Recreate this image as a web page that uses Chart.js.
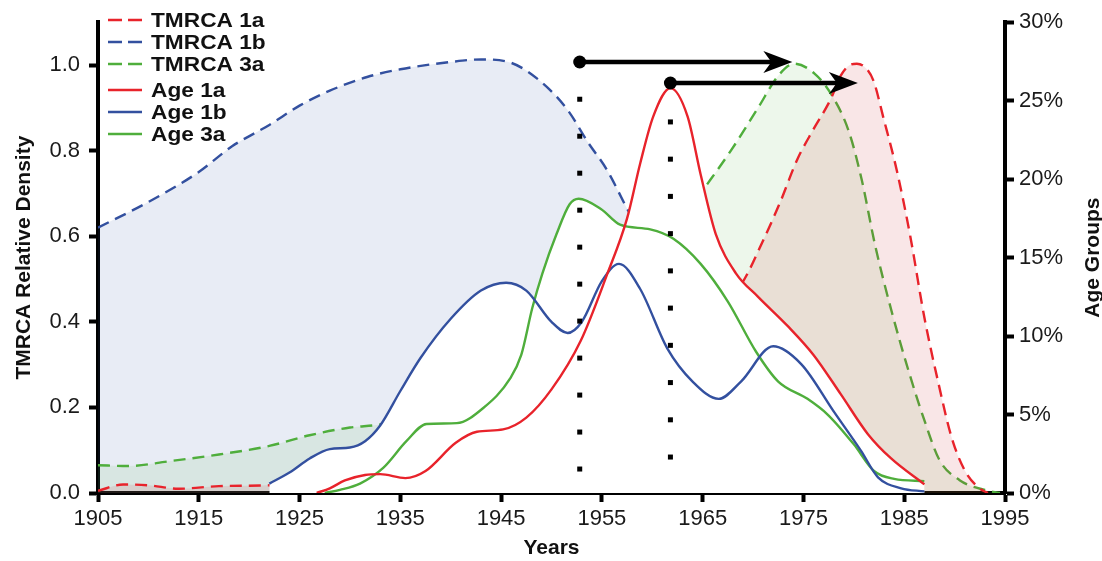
<!DOCTYPE html>
<html>
<head>
<meta charset="utf-8">
<script src="https://cdn.jsdelivr.net/npm/chart.js@4.4.1/dist/chart.umd.min.js"></script>
<style>
body{margin:0;background:#fff;}
#wrap{width:1102px;height:561px;position:relative;}
</style>
</head>
<body>
<div id="wrap"><canvas id="densidad"></canvas></div>
<script>
// TMRCA curves, left axis (relative density)
var tmrca1aYears = [1905,1907.5,1910,1913,1917,1922,1926,1930,1935,1940,1945,1950,1955,1960,1965,1968.9,1971,1972.7,1974.4,1976,1977.7,1978.7,1979.6,1980.3,1981.3,1982,1982.9,1984.3,1985.6,1987,1988.4,1989.7,1991,1992.4,1993.3];
var tmrca1aVals  = [0.005,0.02,0.018,0.01,0.016,0.018,0.025,0.03,0.04,0.07,0.1,0.15,0.22,0.3,0.39,0.49,0.59,0.68,0.78,0.85,0.92,0.975,1.0,1.003,0.99,0.96,0.88,0.75,0.6,0.41,0.256,0.13,0.053,0.012,0];

var tmrca1bYears = [1905,1910,1915,1918.3,1922,1925,1928,1931.7,1935,1940,1943,1946,1949,1951.6,1953.6,1955.5,1957.6,1960,1963,1966,1970,1974,1978,1981];
var tmrca1bVals  = [0.62,0.68,0.75,0.81,0.86,0.905,0.94,0.972,0.99,1.007,1.013,1.005,0.96,0.895,0.82,0.755,0.66,0.56,0.45,0.32,0.15,0.05,0.01,0];

var tmrca3aYears = [1905,1908,1912,1917,1922,1926,1930,1933,1940,1945,1950,1955,1960,1963,1964.8,1967.8,1970.5,1972.5,1974.1,1976.1,1977.8,1979.5,1980.8,1982.1,1983.8,1985.5,1987.1,1988.5,1990.5,1993,1994.5];
var tmrca3aVals  = [0.065,0.063,0.074,0.09,0.11,0.135,0.153,0.16,0.2,0.25,0.34,0.45,0.57,0.64,0.7,0.8,0.9,0.975,1.003,0.98,0.93,0.845,0.73,0.58,0.42,0.28,0.163,0.077,0.03,0.007,0];

// Age groups, right axis (%)
var age1aYears = [1926.7,1928,1929.5,1931.5,1933,1935.5,1937.5,1940.5,1942.6,1945.2,1947.5,1950,1952.9,1955.5,1957.5,1958.8,1960.1,1961.8,1963.5,1964.8,1966.3,1968.3,1970.5,1973.5,1976,1978.7,1981.4,1983.7,1987];
var age1aVals  = [0,0.3,0.8,1.15,1.2,0.95,1.4,3.2,3.9,4.05,4.8,6.6,9.7,13.9,17.5,21.0,24.0,25.8,24.0,20.3,16.5,14.0,12.5,10.6,8.8,6.3,3.75,2.2,0.55];

var age1bYears = [1922,1924,1926,1928,1930,1931.5,1933,1935,1937,1940,1943,1945.5,1947.5,1950,1951.6,1953,1955,1956.7,1958.8,1961.5,1964,1966.6,1968.8,1972,1974.8,1978,1980.7,1982.4,1984.7,1987];
var age1bVals  = [0.6,1.3,2.2,2.8,2.9,3.3,4.3,6.5,8.6,11.1,12.9,13.4,12.9,10.9,10.2,10.9,13.5,14.6,13.0,9.2,7.1,6.0,7.1,9.35,8.2,5.2,2.7,1.0,0.3,0.1];

var age3aYears = [1927.5,1929,1931,1933.3,1935.6,1937.6,1940.6,1943.2,1945.9,1947,1948.1,1949.1,1950.5,1951.8,1952.7,1954.9,1956.8,1959.8,1962.1,1964.8,1967.5,1970.3,1972.5,1975.4,1977.4,1980,1982,1984,1987];
var age3aVals  = [0,0.2,0.6,1.6,3.3,4.4,4.45,5.4,7.3,8.8,11.8,14.0,16.5,18.4,18.75,18.1,17.1,16.8,16.2,14.6,12.2,9.0,7.1,6.0,5.0,3.1,1.4,0.9,0.76];

// markers: dotted verticals and arrows
var markerYears = [1952.8, 1961.8];
var arrowStartVals = [1.007, 0.958];
var arrowEndYears = [1973.9, 1980.4];
var dotTopVals = [0.92, 0.867];
var dotBottomVals = [0.056, 0.084];

var legendOrder = ['TMRCA 1a','TMRCA 1b','TMRCA 3a','Age 1a','Age 1b','Age 3a'];

var rojo = '#e8232b', azul = '#33509f', verde = '#4fae3c';

function puntos(xs, ys){
	var out = [];
	for(var i=0;i<xs.length;i++){ out.push({x:xs[i], y:ys[i]}); }
	return out;
}

function linea(label, xs, ys, color, eje, orden){
	return {label:label, data:puntos(xs,ys), yAxisID:eje, borderColor:color, borderWidth:2.4,
		pointRadius:0, fill:false, order:orden};
}
function mascara(xs, ys){
	return {label:'', data:puntos(xs,ys), yAxisID:'y2', borderColor:'rgba(0,0,0,0)', borderWidth:0,
		backgroundColor:'#ffffff', fill:'origin', pointRadius:0, order:1};
}
function tmrca(label, xs, ys, color, relleno, orden){
	return {label:label, data:puntos(xs,ys), yAxisID:'y', borderColor:color, borderWidth:2.4,
		borderDash:[12,7], backgroundColor:relleno, fill:'origin', pointRadius:0, order:orden};
}

var datasets = [
	linea('Age 1a', age1aYears, age1aVals, rojo, 'y2', 0),
	linea('Age 1b', age1bYears, age1bVals, azul, 'y2', 0),
	linea('Age 3a', age3aYears, age3aVals, verde, 'y2', 0),
	mascara(age1aYears, age1aVals),
	mascara(age1bYears, age1bVals),
	mascara(age3aYears, age3aVals),
	tmrca('TMRCA 1a', tmrca1aYears, tmrca1aVals, rojo, 'rgba(200,30,40,0.11)', 2),
	tmrca('TMRCA 3a', tmrca3aYears, tmrca3aVals, verde, 'rgba(80,180,60,0.10)', 3),
	tmrca('TMRCA 1b', tmrca1bYears, tmrca1bVals, azul, 'rgba(50,80,160,0.11)', 4)
];

var extras = {
	id:'extras',
	afterDatasetsDraw: function(chart){
		var ctx = chart.ctx, sx = chart.scales.x, sy = chart.scales.y;
		ctx.save();
		ctx.fillStyle = '#000';
		ctx.strokeStyle = '#000';
		for(var i=0;i<markerYears.length;i++){
			var px = sx.getPixelForValue(markerYears[i]);
			var top = sy.getPixelForValue(dotTopVals[i]);
			var bot = sy.getPixelForValue(dotBottomVals[i]);
			var n = Math.round((bot-top)/37.5), paso = (bot-top)/n;
			for(var k=0;k<=n;k++){ ctx.fillRect(px-2.5, top+k*paso-2.5, 5, 5); }
			var py = sy.getPixelForValue(arrowStartVals[i]);
			var tx = sx.getPixelForValue(arrowEndYears[i]);
			ctx.lineWidth = 4.5;
			ctx.beginPath(); ctx.moveTo(px, py); ctx.lineTo(tx-20, py); ctx.stroke();
			ctx.beginPath(); ctx.arc(px, py, 6.5, 0, Math.PI*2); ctx.fill();
			ctx.beginPath();
			ctx.moveTo(tx, py); ctx.lineTo(tx-29, py-11); ctx.lineTo(tx-21, py); ctx.lineTo(tx-29, py+11);
			ctx.closePath(); ctx.fill();
		}
		ctx.restore();
	},
	afterDraw: function(chart){
		var ctx = chart.ctx, ca = chart.chartArea;
		ctx.save();
		// right axis title, reads bottom to top
		ctx.translate(1093, (ca.top+ca.bottom)/2);
		ctx.rotate(-Math.PI/2);
		ctx.font = 'bold 21px "Liberation Sans", Arial, sans-serif';
		ctx.fillStyle = '#111';
		ctx.textAlign = 'center';
		ctx.textBaseline = 'middle';
		ctx.fillText('Age Groups', 0, 0);
		ctx.restore();

		// legend
		ctx.save();
		ctx.font = 'bold 21px "Liberation Sans", Arial, sans-serif';
		ctx.textBaseline = 'middle';
		ctx.fillStyle = '#111';
		for(var i=0;i<legendOrder.length;i++){
			var ds = null;
			chart.data.datasets.forEach(function(d){ if(d.label===legendOrder[i]) ds = d; });
			var y = i<3 ? 20+22*i : 24+22*i;
			ctx.strokeStyle = ds.borderColor;
			ctx.lineWidth = 2.4;
			ctx.setLineDash(ds.borderDash ? [14,6] : []);
			ctx.beginPath(); ctx.moveTo(108, y); ctx.lineTo(142, y); ctx.stroke();
			ctx.setLineDash([]);
			ctx.save();
			ctx.translate(151, y+1);
			ctx.scale(1.08, 1);
			ctx.fillText(ds.label, 0, 0);
			ctx.restore();
		}
		ctx.restore();
	}
};

var fuenteTick = {family:'"Liberation Sans", Arial, sans-serif', size:22};
var fuenteTitulo = {family:'"Liberation Sans", Arial, sans-serif', size:21, weight:'bold'};
var rejilla = {display:true, drawOnChartArea:false, drawTicks:true, tickLength:9, tickWidth:4, tickColor:'#000'};
var borde = {display:true, width:4, color:'#000'};

var config = {
	type:'line',
	data:{datasets:datasets},
	options:{
		responsive:true,
		maintainAspectRatio:false,
		animation:false,
		layout:{padding:{top:22, left:0, right:0, bottom:0}},
		elements:{line:{cubicInterpolationMode:'monotone'}},
		plugins:{legend:{display:false}, tooltip:{enabled:false}},
		scales:{
			x:{type:'linear', min:1905, max:1995,
				ticks:{stepSize:10, color:'#1a1a1a', font:fuenteTick, padding:4, maxRotation:0,
					callback:function(v){ return String(v); }},
				grid:rejilla, border:borde,
				title:{display:true, text:'Years', color:'#111', font:fuenteTitulo, padding:{top:0,bottom:0}},
				afterFit:function(s){ s.height = 68; }},
			y:{position:'left', min:0, max:1.1,
				ticks:{stepSize:0.2, includeBounds:false, color:'#1a1a1a', font:fuenteTick, padding:9,
					callback:function(v){ return v.toFixed(1); }},
				grid:rejilla, border:borde,
				title:{display:true, text:'TMRCA Relative Density', color:'#111', font:fuenteTitulo, padding:{top:12,bottom:0}},
				afterFit:function(s){ s.width = 98; }},
			y2:{position:'right', min:0, max:30,
				ticks:{stepSize:5, color:'#1a1a1a', font:fuenteTick, padding:5,
					callback:function(v){ return v + '%'; }},
				grid:rejilla, border:borde,
				afterFit:function(s){ s.width = 97; }}
		}
	},
	plugins:[extras]
};

var lienzo = document.getElementById('densidad').getContext('2d');
window.grafico = new Chart(lienzo, config);
</script>
</body>
</html>
